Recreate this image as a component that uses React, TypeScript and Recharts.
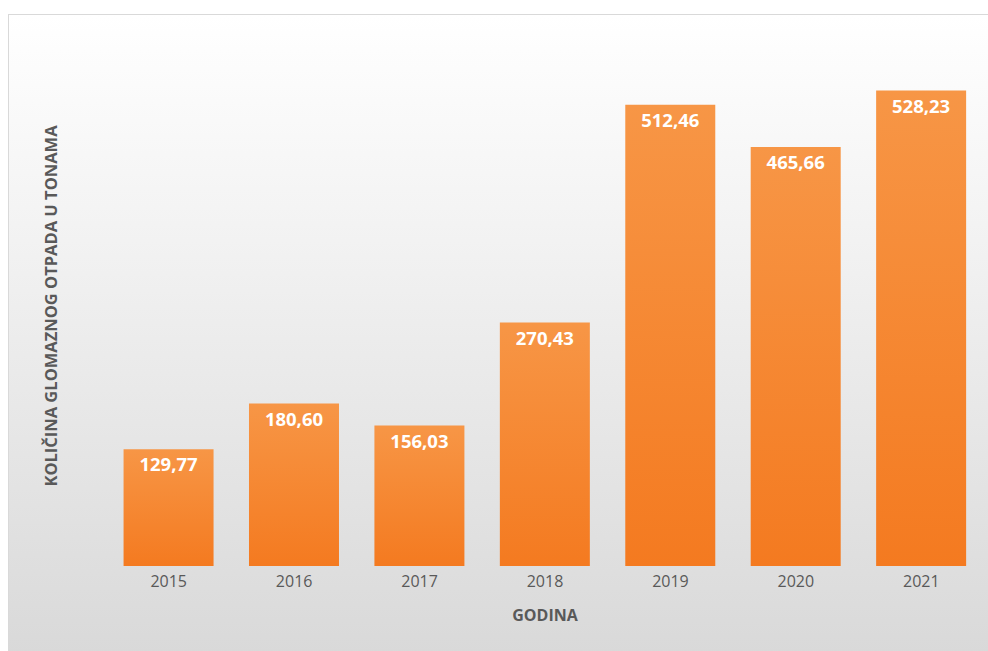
import React from "react";
import { Bar, BarChart, LabelList, XAxis, YAxis } from "recharts";

const years = ["2015", "2016", "2017", "2018", "2019", "2020", "2021"];
const amounts = [129.77, 180.6, 156.03, 270.43, 512.46, 465.66, 528.23];

const data = years.map((year, i) => ({ year, amount: amounts[i] }));

const formatValue = (v: any) => Number(v).toFixed(2).replace(".", ",");

const YTitle = ({ viewBox }: any) => {
  const cx = 41;
  const cy = viewBox.y + viewBox.height / 2 + 10;
  return (
    <text
      x={cx}
      y={cy}
      transform={`rotate(-90, ${cx}, ${cy})`}
      textAnchor="middle"
      dominantBaseline="central"
      fill="#595959"
      fontSize={16.5}
      fontWeight="bold"
    >
      KOLIČINA GLOMAZNOG OTPADA U TONAMA
    </text>
  );
};

const App = () => {
  return (
    <div
      style={{
        position: "fixed",
        left: 8,
        top: 14,
        width: 990,
        height: 640,
        border: "1px solid #d9d9d9",
        borderRight: "none",
        borderBottom: "none",
        boxSizing: "border-box",
        background: "linear-gradient(to bottom, #ffffff 0%, #f4f4f4 30%, #d9d9d9 100%)",
        fontFamily: "'Open Sans', sans-serif",
      }}
    >
      <BarChart
        width={983}
        height={638}
        data={data}
        margin={{ top: 11, right: 8, left: 0, bottom: 57 }}
        barCategoryGap="14%"
      >
        <defs>
          <linearGradient id="barFill" x1="0" y1="0" x2="0" y2="1">
            <stop offset="0%" stopColor="#f79646" />
            <stop offset="100%" stopColor="#f47a20" />
          </linearGradient>
        </defs>
        <XAxis
          dataKey="year"
          height={30}
          axisLine={false}
          tickLine={false}
          tick={{ fill: "#595959", fontSize: 16 }}
          tickMargin={4}
          label={{
            value: "GODINA",
            position: "bottom",
            offset: 14,
            fill: "#595959",
            fontSize: 16,
            fontWeight: "bold",
          }}
        />
        <YAxis
          width={97}
          domain={[0, 600]}
          tick={false}
          axisLine={false}
          tickLine={false}
          label={<YTitle />}
        />
        <Bar dataKey="amount" fill="url(#barFill)" isAnimationActive={false}>
          <LabelList
            dataKey="amount"
            position="insideTop"
            offset={9}
            formatter={formatValue}
            fill="#ffffff"
            fontSize={18.5}
            fontWeight="bold"
          />
        </Bar>
      </BarChart>
    </div>
  );
};

export default App;
